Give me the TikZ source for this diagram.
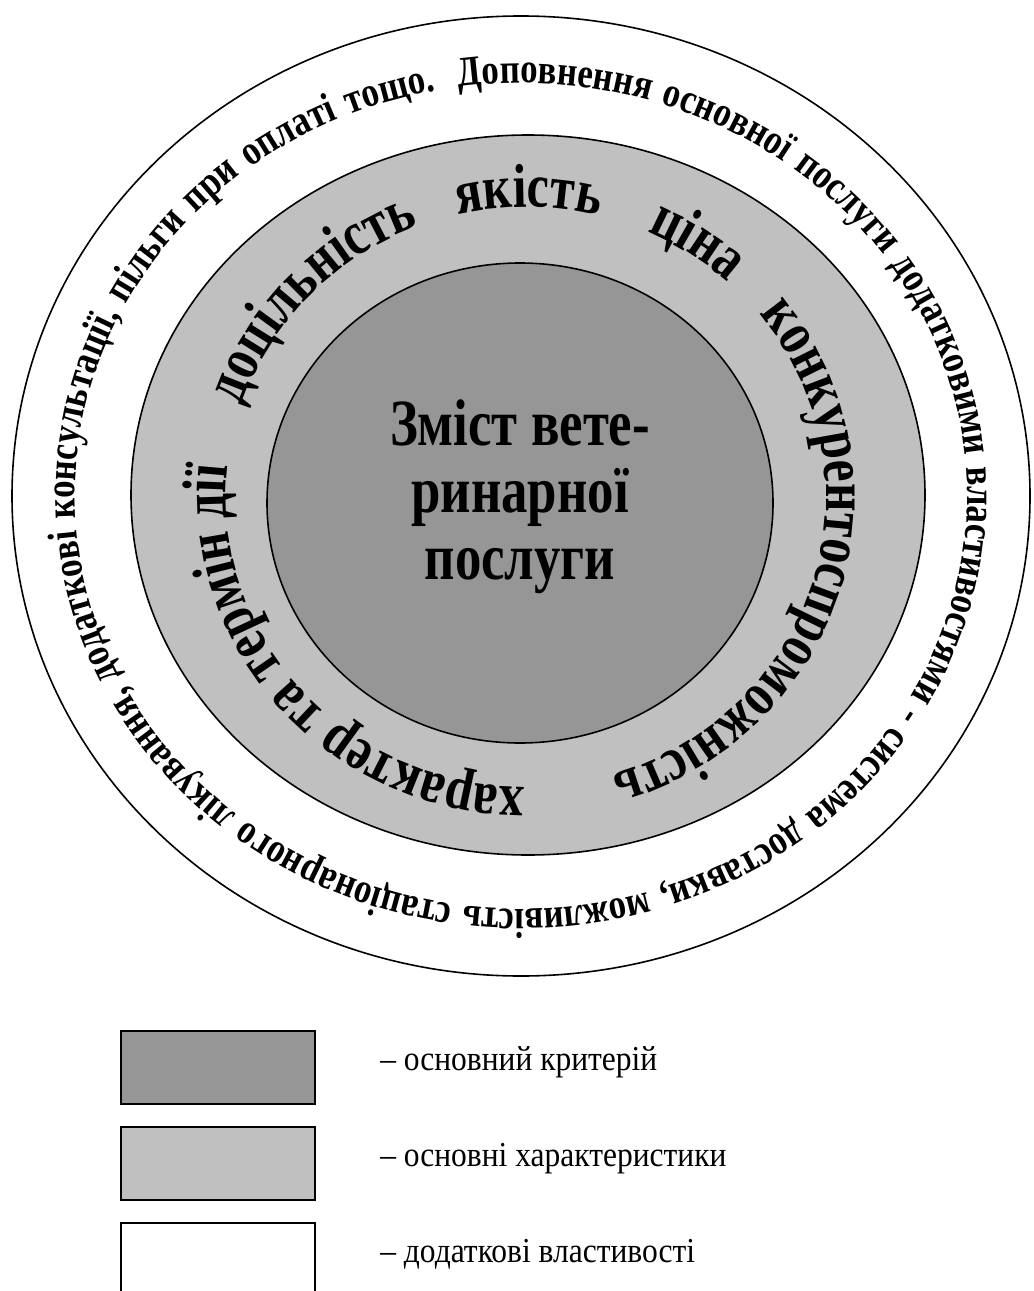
\documentclass[tikz,border=0pt]{standalone}
\usepackage{fontspec}
\setmainfont{Liberation Serif}
\newfontfamily\ringfont[FakeStretch=0.8]{Liberation Serif}
\newfontfamily\outerfont[FakeStretch=0.83]{Liberation Serif}
\newfontfamily\legendfont[FakeStretch=0.9]{Liberation Serif}
\usetikzlibrary{decorations.text,calc}
\definecolor{critfill}{RGB}{150,150,150}
\definecolor{charfill}{RGB}{192,192,192}
\newcommand{\myringfmt}{\ringfont\bfseries\fontsize{46.5}{50}\selectfont}
\newcommand{\myoutfmt}{\outerfont\bfseries\fontsize{31.5}{34}\selectfont}
\begin{document}
\begin{tikzpicture}[x=0.75pt,y=0.75pt,
  rim/.style={draw=black,line width=1.2pt},
  legbox/.style={draw=black,line width=1.4pt,minimum width=145.5pt,minimum height=54.75pt,inner sep=0pt},
  leglabel/.style={anchor=base west,inner sep=0pt,font=\legendfont\fontsize{26.25}{28}\selectfont},
  ringword/.style={decorate,decoration={text along path,text align=center,text={|\myringfmt|#1}}}]
\useasboundingbox (0,0) rectangle (1033,-1291);
\clip (0,0) rectangle (1033,-1291);
\coordinate (oc) at (521,-496);
\coordinate (mc) at (528,-495);
\coordinate (ic) at (520,-503);
\coordinate (tc) at (526,-497);
\draw[rim,fill=white] (oc) ellipse [x radius=509, y radius=480];
\draw[rim,fill=charfill] (mc) ellipse [x radius=397, y radius=360];
\draw[rim,fill=critfill] (ic) ellipse [x radius=253, y radius=240];
% outer ring text
\path[decorate,decoration={text along path,text align={fit to path stretching spaces},text={|\myoutfmt|Доповнення основної послуги додатковими властивостями - система доставки, можливість стаціонарного лікування, додаткові консультації, пільги при оплаті тощо.}}]
  ($(oc)+(98:446 and 413)$) arc[start angle=98, end angle=-259, x radius=446, y radius=413];
% middle ring words
\path[ringword={доцільність}] ($(tc)+(176.5:300 and 290)$) arc[start angle=176.5, end angle=96.5, x radius=300, y radius=290];
\path[ringword={якість}] ($(tc)+(119.5:300 and 290)$) arc[start angle=119.5, end angle=59.5, x radius=300, y radius=290];
\path[ringword={ціна}] ($(tc)+(81.8:300 and 290)$) arc[start angle=81.8, end angle=31.8, x radius=300, y radius=290];
\path[ringword={конкурентоспроможність}] ($(tc)+(58:300 and 290)$) arc[start angle=58, end angle=-92, x radius=300, y radius=290];
\path[ringword={характер та термін дії}] ($(tc)+(286.5:300 and 290)$) arc[start angle=286.5, end angle=156.5, x radius=300, y radius=290];
% centre
\node[align=center,inner sep=0pt,font=\ringfont\bfseries\fontsize{49.5}{50.25}\selectfont] (ctext) at (520,-497) {Зміст вете-\\ринарної\\послуги};
% legend
\node[legbox,fill=critfill] (box1) at (218,-1067.5) {};
\node[legbox,fill=charfill] (box2) at (218,-1163.5) {};
\node[legbox,fill=white] (box3) at (218,-1259.5) {};
\node[leglabel] (lab1) at (380,-1070) {– основний критерій};
\node[leglabel] (lab2) at (380,-1166) {– основні характеристики};
\node[leglabel] (lab3) at (380,-1262) {– додаткові властивості};
\end{tikzpicture}
\end{document}
